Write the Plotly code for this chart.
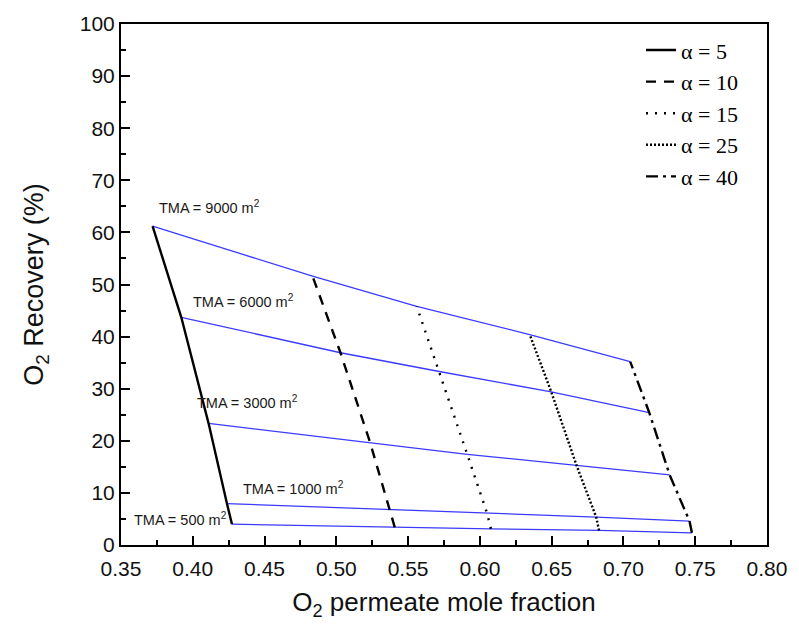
import plotly.graph_objects as go

# TMA levels (m^2), order matches the point lists below
tma = [500, 1000, 3000, 6000, 9000]

# alpha series: O2 permeate mole fraction (x) and O2 recovery % (y) per TMA
alphas = [5, 10, 15, 25, 40]
a5_x = [0.4273, 0.4238, 0.411, 0.392, 0.372]
a5_y = [4.0, 7.95, 23.35, 43.7, 61.2]
a10_x = [0.5407, 0.537, 0.5235, 0.5029, 0.4834]
a10_y = [3.4, 6.85, 19.7, 36.9, 51.6]
a15_x = [0.6077, 0.605, 0.5912, 0.5717, 0.556]
a15_y = [3.1, 6.1, 17.4, 33.3, 45.8]
a25_x = [0.683, 0.681, 0.6673, 0.6497, 0.6347]
a25_y = [2.8, 5.36, 15.3, 29.4, 40.4]
a40_x = [0.7477, 0.746, 0.7322, 0.718, 0.7047]
a40_y = [2.33, 4.6, 13.45, 25.4, 35.2]

series_x = [a5_x, a10_x, a15_x, a25_x, a40_x]
series_y = [a5_y, a10_y, a15_y, a25_y, a40_y]
dashes = ["solid", "10px,8px", "2px,7px", "2px,2px", "12px,5px,3px,5px"]

# label positions (data coords) for the TMA annotations
tma_label_x = [0.358, 0.4339, 0.4016, 0.3986, 0.3754]
tma_label_y = [4.9, 11.0, 27.5, 46.8, 64.8]

fig = go.Figure()

# blue constant-TMA curves
for i, t in enumerate(tma):
    fig.add_trace(go.Scatter(
        x=[sx[i] for sx in series_x],
        y=[sy[i] for sy in series_y],
        mode="lines",
        line=dict(color="#3b3bff", width=1.3),
        showlegend=False,
        hoverinfo="skip",
    ))

# black constant-alpha curves
for a, sx, sy, d in zip(alphas, series_x, series_y, dashes):
    fig.add_trace(go.Scatter(
        x=sx, y=sy, mode="lines",
        line=dict(color="black", width=2.4, dash=d),
        name=f"\u03b1 = {a}",
    ))

for t, lx, ly in zip(tma, tma_label_x, tma_label_y):
    fig.add_annotation(
        x=lx, y=ly, xref="x", yref="y",
        text=f"TMA = {t} m<sup>2</sup>",
        showarrow=False, xanchor="left", yanchor="middle",
        font=dict(family="Liberation Sans, Arial", size=14.5, color="#1a1a1a"),
    )

axis_common = dict(
    showline=True, linecolor="black", linewidth=2, mirror=True,
    ticks="inside", ticklen=9, tickwidth=2, tickcolor="black",
    showgrid=False, zeroline=False,
    tickfont=dict(family="Liberation Sans, Arial", size=21, color="#111"),
)

fig.update_xaxes(
    range=[0.35, 0.80], dtick=0.05, tickformat=".2f",
    ticklabelstandoff=4,
    minor=dict(ticks="inside", ticklen=5, tickwidth=1.5, tickcolor="black", dtick=0.025),
    title=dict(text="O<sub>2</sub> permeate mole fraction",
               font=dict(family="Liberation Sans, Arial", size=26, color="#111"),
               standoff=14),
    **axis_common,
)
fig.update_yaxes(
    range=[0, 100], dtick=10,
    minor=dict(ticks="inside", ticklen=5, tickwidth=1.5, tickcolor="black", dtick=5),
    title=dict(text="O<sub>2</sub> Recovery (%)",
               font=dict(family="Liberation Sans, Arial", size=27, color="#111"),
               standoff=28),
    **axis_common,
)

fig.update_layout(
    width=799, height=631,
    margin=dict(l=121, r=24, t=17, b=86),
    plot_bgcolor="white", paper_bgcolor="white",
    legend=dict(
        x=0.805, y=0.99, xanchor="left", yanchor="top",
        bgcolor="rgba(0,0,0,0)", borderwidth=0,
        font=dict(family="Liberation Serif, Times New Roman", size=22, color="black"),
    ),
)

fig.write_html("out.html")
